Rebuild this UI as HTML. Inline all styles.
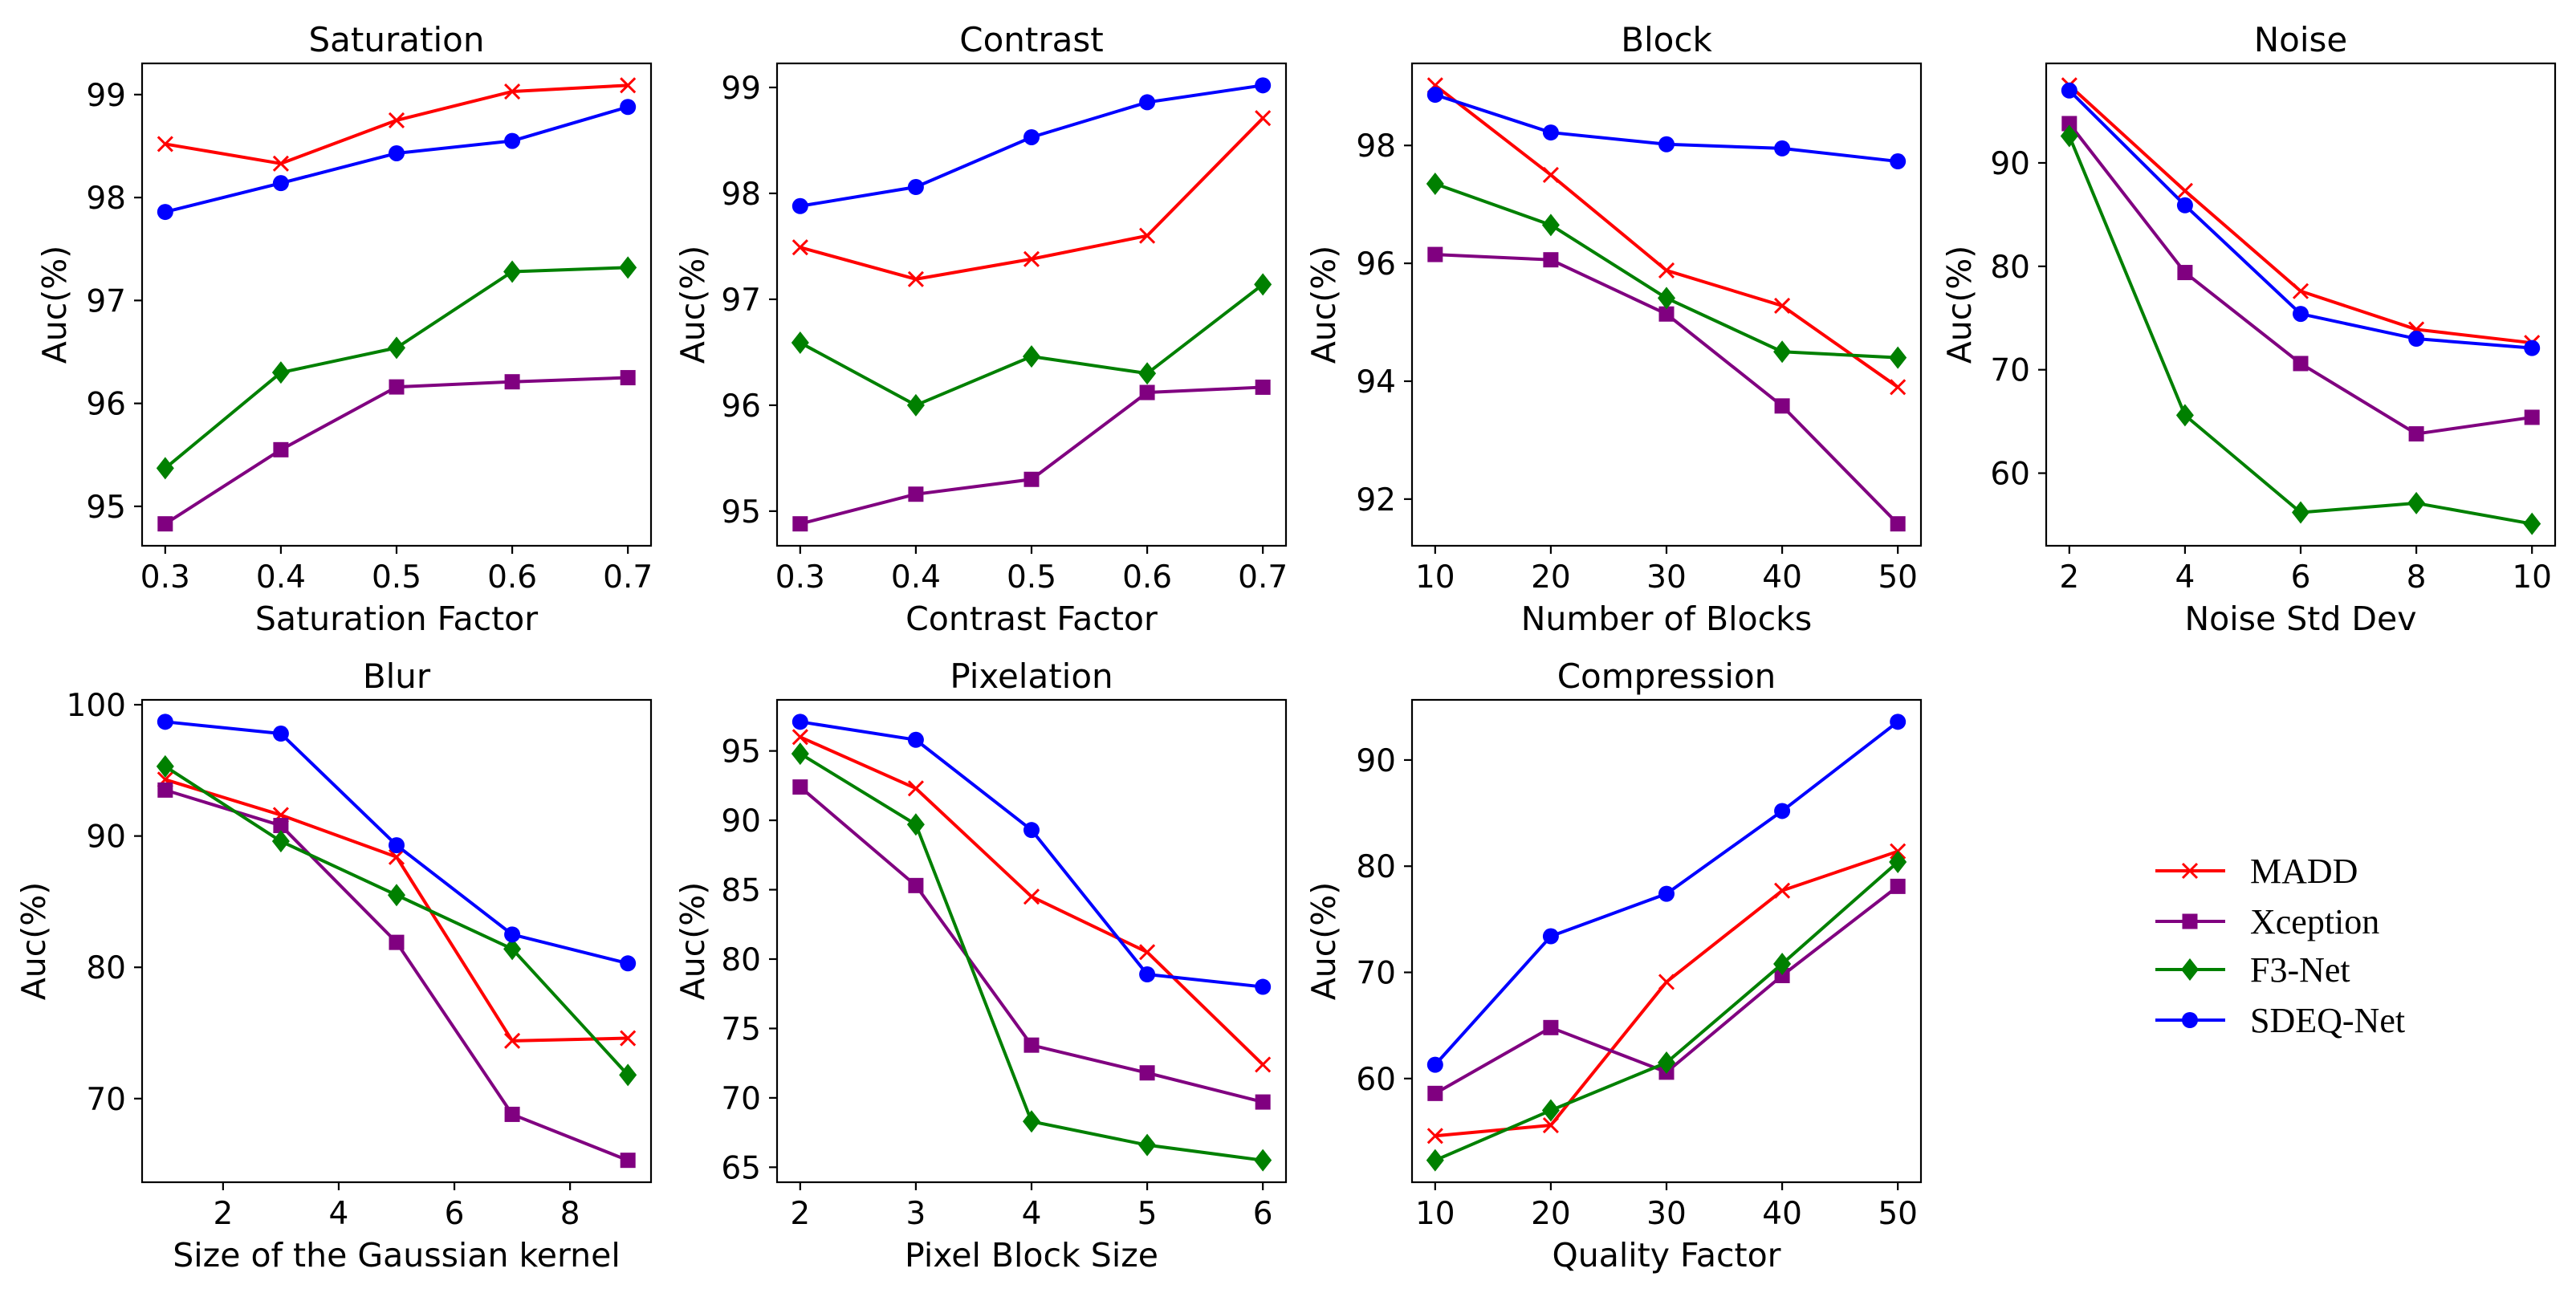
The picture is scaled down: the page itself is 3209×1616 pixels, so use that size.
<!DOCTYPE html>
<html><head><meta charset="utf-8">
<style>
html,body{margin:0;padding:0;background:#fff;}
svg{display:block;}
text{font-family:"DejaVu Sans","Liberation Sans",sans-serif;fill:#000;}
.leg{font-family:"Liberation Serif","DejaVu Serif",serif;}
</style></head>
<body>
<svg id="fig" width="3209" height="1616" viewBox="0 0 3209 1616" xmlns="http://www.w3.org/2000/svg"></svg>
<script>
const panelTitles = ["Saturation","Contrast","Block","Noise","Blur","Pixelation","Compression"];
const xLabels = ["Saturation Factor","Contrast Factor","Number of Blocks","Noise Std Dev","Size of the Gaussian kernel","Pixel Block Size","Quality Factor"];
const xValues = [[0.3,0.4,0.5,0.6,0.7],[0.3,0.4,0.5,0.6,0.7],[10,20,30,40,50],[2,4,6,8,10],[1,3,5,7,9],[2,3,4,5,6],[10,20,30,40,50]];
const xTicks = [[0.3,0.4,0.5,0.6,0.7],[0.3,0.4,0.5,0.6,0.7],[10,20,30,40,50],[2,4,6,8,10],[2,4,6,8],[2,3,4,5,6],[10,20,30,40,50]];
const yTicks = [[95,96,97,98,99],[95,96,97,98,99],[92,94,96,98],[60,70,80,90],[70,80,90,100],[65,70,75,80,85,90,95],[60,70,80,90]];
const seriesNames = ["MADD","Xception","F3-Net","SDEQ-Net"];
const maddValues = [
 [98.52,98.33,98.75,99.03,99.09],
 [97.49,97.19,97.38,97.60,98.71],
 [99.02,97.50,95.88,95.28,93.90],
 [97.5,87.3,77.6,73.9,72.6],
 [94.3,91.6,88.4,74.4,74.6],
 [96.0,92.3,84.5,80.5,72.4],
 [54.6,55.6,69.1,77.7,81.4]];
const xceptionValues = [
 [94.83,95.55,96.16,96.21,96.25],
 [94.88,95.16,95.30,96.12,96.17],
 [96.15,96.06,95.14,93.58,91.58],
 [93.8,79.4,70.6,63.8,65.4],
 [93.5,90.8,81.9,68.8,65.3],
 [92.4,85.3,73.8,71.8,69.7],
 [58.6,64.8,60.6,69.7,78.1]];
const f3Values = [
 [95.37,96.30,96.54,97.28,97.32],
 [96.59,96.00,96.46,96.30,97.14],
 [97.35,96.65,95.41,94.50,94.40],
 [92.6,65.6,56.2,57.1,55.1],
 [95.3,89.6,85.5,81.4,71.8],
 [94.8,89.7,68.3,66.6,65.5],
 [52.3,57.0,61.5,70.8,80.4]];
const sdeqValues = [
 [97.86,98.14,98.43,98.55,98.88],
 [97.88,98.06,98.53,98.86,99.02],
 [98.86,98.22,98.02,97.95,97.73],
 [97.0,85.9,75.4,73.0,72.1],
 [98.7,97.8,89.3,82.5,80.3],
 [97.1,95.8,89.3,78.9,78.0],
 [61.3,73.4,77.4,85.2,93.6]];

const NS="http://www.w3.org/2000/svg";
const svg=document.getElementById('fig');
const colors=["#ff0000","#800080","#008000","#0000ff"];
const markers=["x","s","d","o"];
const allSeries=[maddValues,xceptionValues,f3Values,sdeqValues];
const colLeft=[177,968,1759,2549], W=634;
const rowTop=[79,872], H=601;
const ylabOff=[109,105,110,108,135,105,110];
function el(tag,attrs,parent){const e=document.createElementNS(NS,tag);for(const k in attrs)e.setAttribute(k,attrs[k]);(parent||svg).appendChild(e);return e;}
function fmt(v){return (Math.abs(v)<1 && v!==0)?v.toFixed(1):String(v);}
function marker(g,type,cx,cy,c){
  let m;
  if(type==="o") m=el('circle',{cx:cx,cy:cy,r:10,fill:c},g);
  else if(type==="s") m=el('rect',{x:cx-9.5,y:cy-9.5,width:19,height:19,fill:c},g);
  else if(type==="d") m=el('polygon',{points:`${cx},${cy-14} ${cx+11},${cy} ${cx},${cy+14} ${cx-11},${cy}`,fill:c},g);
  else m=el('path',{d:`M${cx-9},${cy-9}L${cx+9},${cy+9}M${cx-9},${cy+9}L${cx+9},${cy-9}`,stroke:c,'stroke-width':3,fill:'none'},g);
  
  
}
for(let p=0;p<7;p++){
  const L=colLeft[p%4], T=rowTop[Math.floor(p/4)];
  const g=el('g',{});
  
  
  const xs=xValues[p];
  const xmin0=Math.min(...xs), xmax0=Math.max(...xs), xr=xmax0-xmin0;
  const xmin=xmin0-0.05*xr, xmax=xmax0+0.05*xr;
  let all=[];allSeries.forEach(s=>all=all.concat(s[p]));
  const ymin0=Math.min(...all), ymax0=Math.max(...all), yr=ymax0-ymin0;
  const ymin=ymin0-0.05*yr, ymax=ymax0+0.05*yr;
  const X=v=>L+(v-xmin)/(xmax-xmin)*W;
  const Y=v=>T+H-(v-ymin)/(ymax-ymin)*H;
  const t=el('text',{x:L+W/2,y:T-15,'font-size':42,'text-anchor':'middle'},g);t.textContent=panelTitles[p];
  
  xTicks[p].forEach(v=>{
    const x=X(v);
    const tk=el('line',{x1:x,x2:x,y1:T+H,y2:T+H+10,stroke:'#000','stroke-width':2.2},g);
    
    const tl=el('text',{x:x,y:T+H+52,'font-size':39,'text-anchor':'middle'},g);tl.textContent=fmt(v);
    
  });
  yTicks[p].forEach(v=>{
    const y=Y(v);
    const tk=el('line',{x1:L-10,x2:L,y1:y,y2:y,stroke:'#000','stroke-width':2.2},g);
    
    const tl=el('text',{x:L-20,y:y+14,'font-size':39,'text-anchor':'end'},g);tl.textContent=String(v);
    
  });
  const xl=el('text',{x:L+W/2,y:T+H+105,'font-size':41,'text-anchor':'middle'},g);xl.textContent=xLabels[p];
  
  const yx=L-ylabOff[p], yy=T+H/2;
  const yl=el('text',{x:yx,y:yy,'font-size':41,'text-anchor':'middle','dominant-baseline':'central',transform:`rotate(-90 ${yx} ${yy})`},g);yl.textContent="Auc(%)";
  
  allSeries.forEach((s,si)=>{
    const vals=s[p];
    const pts=vals.map((v,i)=>X(xs[i])+','+Y(v)).join(' ');
    const sg=el('g',{},g);
    
    
    const pl=el('polyline',{points:pts,fill:'none',stroke:colors[si],'stroke-width':4,'stroke-linejoin':'round'},sg);
    
    vals.forEach((v,i)=>marker(sg,markers[si],X(xs[i]),Y(v),colors[si]));
  });
  const fr=el('rect',{x:L,y:T,width:W,height:H,fill:'none',stroke:'#000','stroke-width':2.2},g);
  
}
const lg=el('g',{});


const legY=[1085,1148,1208,1271];
seriesNames.forEach((n,i)=>{
  const eg=el('g',{},lg);
  
  
  el('line',{x1:2685,x2:2772,y1:legY[i],y2:legY[i],stroke:colors[i],'stroke-width':4},eg);
  marker(eg,markers[i],2728,legY[i],colors[i]);
  const tx=el('text',{x:2803,y:legY[i]+15,'font-size':44,class:'leg'},eg);tx.textContent=n;
  
});
</script>
</body></html>
